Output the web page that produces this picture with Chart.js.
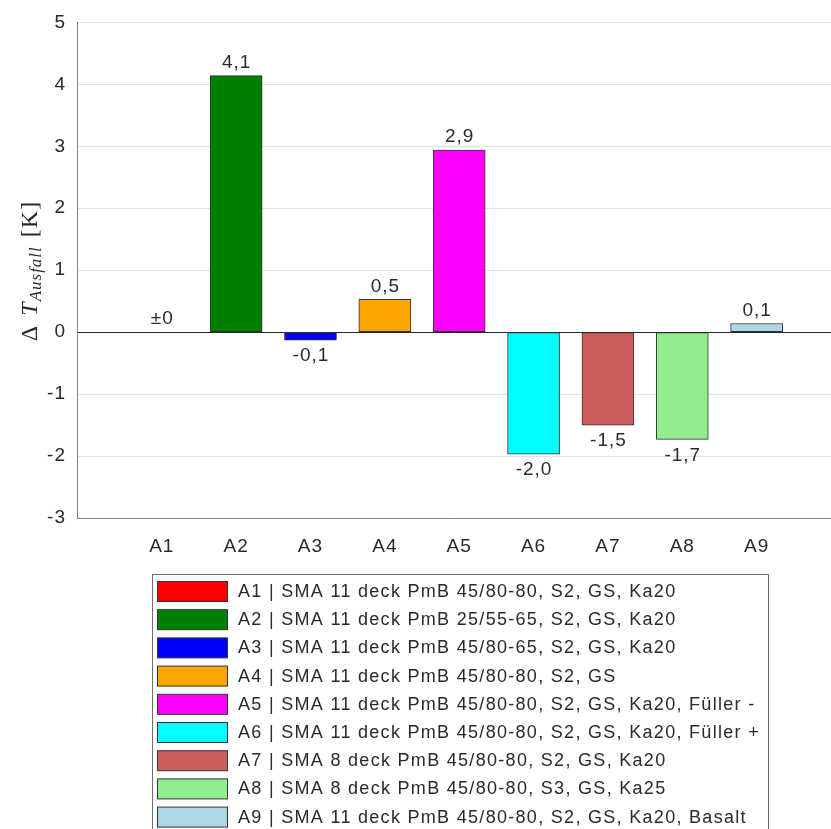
<!DOCTYPE html>
<html>
<head>
<meta charset="utf-8">
<script src="https://cdn.jsdelivr.net/npm/chart.js@4"></script>
<style>
  html, body { margin: 0; padding: 0; background: #fff; }
  canvas { display: block; }
</style>
</head>
<body>
<canvas id="c" width="831" height="829"></canvas>
<script>
// Mixtures and their change in outflow temperature
const categories = ['A1', 'A2', 'A3', 'A4', 'A5', 'A6', 'A7', 'A8', 'A9'];
const deltaT = [0, 4.14, -0.13, 0.53, 2.94, -1.97, -1.50, -1.73, 0.14];
const legendLabels = [
  'A1 | SMA 11 deck PmB 45/80-80, S2, GS, Ka20',
  'A2 | SMA 11 deck PmB 25/55-65, S2, GS, Ka20',
  'A3 | SMA 11 deck PmB 45/80-65, S2, GS, Ka20',
  'A4 | SMA 11 deck PmB 45/80-80, S2, GS',
  'A5 | SMA 11 deck PmB 45/80-80, S2, GS, Ka20, Füller -',
  'A6 | SMA 11 deck PmB 45/80-80, S2, GS, Ka20, Füller +',
  'A7 | SMA 8 deck PmB 45/80-80, S2, GS, Ka20',
  'A8 | SMA 8 deck PmB 45/80-80, S3, GS, Ka25',
  'A9 | SMA 11 deck PmB 45/80-80, S2, GS, Ka20, Basalt'
];
const barColors = ['#ff0000', '#008000', '#0000ff', '#ffa500', '#ff00ff',
                   '#00ffff', '#cd5c5c', '#90ee90', '#add8e6'];
const yTickValues = [-3, -2, -1, 0, 1, 2, 3, 4, 5];

const FONT = '"Liberation Sans", Arial, sans-serif';
const TEXT = '#2a2a2a';

function formatValue(v) {
  if (v === 0) return '±0';
  return v.toFixed(1).replace('.', ',');
}

// Value labels above positive bars and below negative ones
const valueLabels = {
  id: 'valueLabels',
  afterDatasetsDraw(chart) {
    const ctx = chart.ctx;
    ctx.save();
    ctx.font = '19px ' + FONT;
    ctx.letterSpacing = '1px';
    ctx.fillStyle = TEXT;
    ctx.textAlign = 'center';
    ctx.textBaseline = 'middle';
    chart.data.datasets.forEach((ds, i) => {
      const el = chart.getDatasetMeta(i).data[0];
      const v = ds.data[0].y;
      const y = v >= 0 ? el.y - 13 : el.y + 16;
      ctx.fillText(formatValue(v), el.x + 0.5, y);
    });
    ctx.restore();
  }
};

// Axis title: Δ T_Ausfall [K], rotated
const yTitle = {
  id: 'yTitle',
  afterDraw(chart) {
    const ctx = chart.ctx;
    ctx.save();
    ctx.translate(37, 271);
    ctx.rotate(-Math.PI / 2);
    ctx.fillStyle = TEXT;
    ctx.textBaseline = 'alphabetic';
    const parts = [
      { t: 'Δ', f: '24px "Liberation Serif", serif', dy: 0, gap: 9 },
      { t: 'T', f: 'italic 24px "Liberation Serif", serif', dy: 0, gap: 0 },
      { t: 'Ausfall', f: 'italic 17px "Liberation Serif", serif', dy: 4, gap: 9 },
      { t: '[K]', f: '24px "Liberation Serif", serif', dy: 0, gap: 0 }
    ];
    let total = 0;
    parts.forEach(p => { ctx.font = p.f; total += ctx.measureText(p.t).width + p.gap; });
    let x = -total / 2;
    parts.forEach(p => {
      ctx.font = p.f;
      ctx.fillText(p.t, x, p.dy);
      x += ctx.measureText(p.t).width + p.gap;
    });
    ctx.restore();
  }
};

// Boxed legend below the plot
const boxLegend = {
  id: 'boxLegend',
  afterDraw(chart) {
    const ctx = chart.ctx;
    ctx.save();
    ctx.strokeStyle = '#6e6e6e';
    ctx.lineWidth = 1;
    ctx.strokeRect(152.5, 574.5, 616, 280);
    ctx.font = '18px ' + FONT;
    ctx.letterSpacing = '1.3px';
    ctx.textAlign = 'left';
    ctx.textBaseline = 'middle';
    chart.data.datasets.forEach((ds, i) => {
      const top = 581 + i * 28.2;
      ctx.fillStyle = ds.backgroundColor;
      ctx.fillRect(157.5, top + 0.5, 70, 20);
      ctx.strokeStyle = '#333';
      ctx.strokeRect(157.5, top + 0.5, 70, 20);
      ctx.fillStyle = TEXT;
      ctx.fillText(ds.label, 238, top + 11);
    });
    ctx.restore();
  }
};

const spacing = {
  id: 'spacing',
  beforeDraw(chart) { chart.ctx.letterSpacing = '1px'; }
};

const datasets = categories.map((c, i) => ({
  label: legendLabels[i],
  data: [{ x: i + 1, y: deltaT[i] }],
  backgroundColor: barColors[i],
  borderColor: '#333',
  borderWidth: 1,
  borderSkipped: false,
  barThickness: 52,
  grouped: false
}));

new Chart(document.getElementById('c'), {
  type: 'bar',
  data: { datasets },
  plugins: [spacing, valueLabels, yTitle, boxLegend],
  options: {
    responsive: false,
    animation: false,
    events: [],
    layout: { padding: { top: 22, left: 0, right: 0, bottom: 0 } },
    plugins: { legend: { display: false }, tooltip: { enabled: false } },
    scales: {
      x: {
        type: 'linear',
        offset: false,
        min: -0.14,
        max: 10,
        grid: { display: false, drawTicks: false },
        border: { color: '#808080' },
        afterBuildTicks(scale) {
          scale.ticks = categories.map((c, i) => ({ value: i + 1 }));
        },
        afterFit(scale) { scale.height = 311; },
        ticks: {
          autoSkip: false,
          maxRotation: 0,
          padding: 17,
          color: TEXT,
          font: { family: FONT, size: 19 },
          callback: v => categories[v - 1]
        }
      },
      y: {
        min: -3,
        max: 5,
        afterBuildTicks(scale) {
          scale.ticks = yTickValues.map(v => ({ value: v }));
        },
        afterFit(scale) { scale.width = 77; },
        grid: {
          drawTicks: false,
          color: c => (c.tick && c.tick.value === 0 ? '#262626' : '#e3e3e3'),
          lineWidth: 1
        },
        border: { color: '#808080' },
        ticks: {
          padding: 11,
          color: TEXT,
          font: { family: FONT, size: 19 },
          callback: v => String(v)
        }
      }
    }
  }
});
</script>
</body>
</html>
